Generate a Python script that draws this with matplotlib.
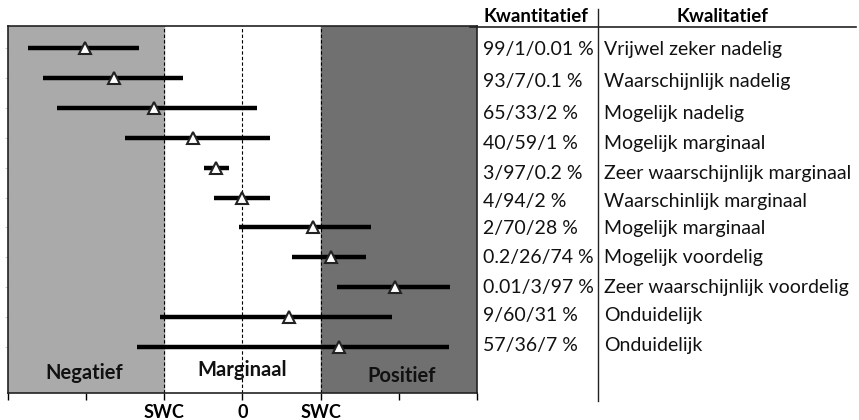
import matplotlib
matplotlib.use("Agg")
import matplotlib.pyplot as plt
from matplotlib.lines import Line2D

# ---- data ----
lower = [-2.75, -2.55, -2.37, -1.50, -0.49, -0.36, -0.05, 0.63, 1.21, -1.06, -1.35]
point = [-2.02, -1.64, -1.13, -0.63, -0.34, 0.00, 0.90, 1.13, 1.95, 0.60, 1.23]
upper = [-1.32, -0.76, 0.18, 0.35, -0.17, 0.35, 1.65, 1.58, 2.66, 1.91, 2.64]
quant = ["99/1/0.01 %", "93/7/0.1 %", "65/33/2 %", "40/59/1 %", "3/97/0.2 %",
         "4/94/2 %", "2/70/28 %", "0.2/26/74 %", "0.01/3/97 %", "9/60/31 %", "57/36/7 %"]
qual = ["Vrijwel zeker nadelig", "Waarschijnlijk nadelig", "Mogelijk nadelig",
        "Mogelijk marginaal", "Zeer waarschijnlijk marginaal", "Waarschinlijk marginaal",
        "Mogelijk marginaal", "Mogelijk voordelig", "Zeer waarschijnlijk voordelig",
        "Onduidelijk", "Onduidelijk"]
swc = 1.0
xticks = [-3, -2, -1, 0, 1, 2, 3]
xticklabels = ["", "", "SWC", "0", "SWC", "", ""]
zones = ["Negatief", "Marginaal", "Positief"]

W, H = 859, 420
plt.rcParams['font.family'] = ['Lato', 'DejaVu Sans']
fig = plt.figure(figsize=(W / 100, H / 100), dpi=100)

def fx(px):
    return px / W

def fy(py):
    return 1 - py / H

ax = fig.add_axes([fx(8), fy(393), fx(477) - fx(8), fy(26) - fy(393)])
ax.set_xlim(-3, 3)
ax.set_ylim(12.53, 0.27)

ax.axvspan(-3, -swc, color="#aaaaaa", zorder=0)
ax.axvspan(swc, 3, color="#707070", zorder=0)
for xv in (-swc, 0, swc):
    ax.axvline(xv, color="black", lw=0.8, ls=(0, (3, 2)), zorder=1)

ys = list(range(1, len(point) + 1))
ax.hlines(ys, lower, upper, color="black", lw=3.2, zorder=2)
ax.plot(point, ys, ls="none", marker="^", ms=9, mfc="white", mec="#222222", mew=1.5, zorder=3)

ax.text(-2.02, 11.85, zones[0], ha="center", va="center", fontsize=14.5, fontweight="bold", color="#111111")
ax.text(0.0, 11.75, zones[1], ha="center", va="center", fontsize=14.5, fontweight="bold", color="#111111")
ax.text(2.03, 11.95, zones[2], ha="center", va="center", fontsize=14.5, fontweight="bold", color="#111111")

ax.set_xticks(xticks)
ax.set_xticklabels(xticklabels, fontsize=13, fontweight="bold")
ax.tick_params(axis="x", direction="out", length=5, width=1, pad=3)
ax.set_yticks(ys)
ax.set_yticklabels([])
ax.tick_params(axis="y", direction="out", length=2, width=0.5, color="#bbbbbb")
for s in ax.spines.values():
    s.set_color("#222222")
    s.set_linewidth(1.2)

# ---- right table ----
row_px = [50, 81, 113, 143, 173, 201, 229, 258, 287, 316, 346]
fig.text(fx(536), fy(16), "Kwantitatief", ha="center", va="center", fontsize=13.5, fontweight="bold")
fig.text(fx(722), fy(16), "Kwalitatief", ha="center", va="center", fontsize=13.5, fontweight="bold")
fig.add_artist(Line2D([fx(470), fx(856)], [fy(26.5), fy(26.5)], color="#222222", lw=1.2))
fig.add_artist(Line2D([fx(598), fx(598)], [fy(9), fy(401)], color="#222222", lw=1.0))
for py, q, l in zip(row_px, quant, qual):
    fig.text(fx(483), fy(py), q, ha="left", va="center", fontsize=14, color="#111111")
    fig.text(fx(604), fy(py), l, ha="left", va="center", fontsize=14, color="#111111")

fig.savefig("out.png", dpi=100)
